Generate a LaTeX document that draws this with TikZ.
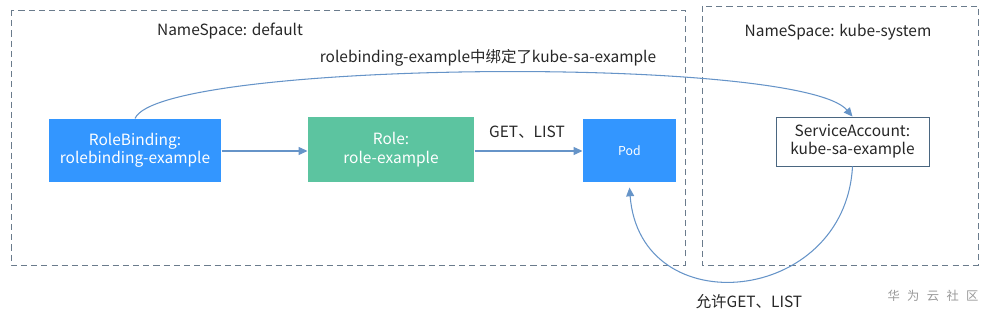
\documentclass[tikz,border=0pt]{standalone}
\usepackage{fontspec}
\setmainfont{Noto Sans CJK SC}
\usetikzlibrary{positioning,arrows.meta}
\definecolor{kblue}{HTML}{3396FF}
\definecolor{kgreen}{HTML}{5CC4A0}
\definecolor{kline}{HTML}{6694C8}
\definecolor{kdash}{HTML}{6A7B8C}
\definecolor{kframe}{HTML}{4A6680}

\begin{document}
\begin{tikzpicture}[
  x=0.02cm,y=-0.02cm,
  >={Triangle[width=4.5pt,length=5pt]},
  line width=0.6pt,
  every node/.style={font=\fontsize{8.8}{10.5}\selectfont,text=black!85},
  nsbox/.style={draw=kdash,dashed,dash pattern=on 3.5pt off 2.3pt,line width=0.5pt},
  objbox/.style={text=white,align=center,inner sep=0pt},
  conn/.style={draw=kline,line width=0.6pt}
]%
  \useasboundingbox (0,0) rectangle (987,317);

  % namespaces
  \draw[nsbox] (11,10) rectangle (685,265);
  \draw[nsbox] (702,6) rectangle (978,265);
  \node (nsdef) at (230,31) {NameSpace: default};
  \node (nssys) at (838,32) {NameSpace: kube-system};

  % objects
  \node (rb)   [objbox,fill=kblue,minimum width=3.44cm,minimum height=1.26cm] at (135,150.5)
    {RoleBinding:\\rolebinding-example};
  \node (role) [objbox,fill=kgreen,minimum width=3.32cm,minimum height=1.3cm] at (391,149.5)
    {Role:\\role-example};
  \node (pod)  [objbox,fill=kblue,minimum width=1.86cm,minimum height=1.26cm,
                font=\fontsize{7}{8}\selectfont] at (629.5,150.5) {Pod};
  \node (sa)   [draw=kframe,fill=white,align=center,inner sep=0pt,line width=0.5pt,
                minimum width=3.06cm,minimum height=0.98cm] at (852.5,141.5)
    {ServiceAccount:\\kube-sa-example};

  % connectors
  \draw[conn,->] (rb.east |- 0,151) -- (role.west |- 0,151);
  \draw[conn,->] (role.east |- 0,151) -- (pod.west |- 0,151);
  \node (get) at (527,132) {GET、LIST};

  \draw[conn,->] (rb.north) .. controls (160,60) and (800,55) .. (sa.north);
  \node (bind) at (488,58) {rolebinding-example中绑定了kube-sa-example};

  \draw[conn,->] (sa.south) .. controls (845,305) and (640,325) .. ([yshift=-0.1cm]pod.south);
  \node (allow) at (749,302) {允许GET、LIST};

  \node (mark) [text=black!40,font=\fontsize{7}{8}\selectfont] at (933,296)
    {华\hspace{0.6em}为\hspace{0.6em}云\hspace{0.6em}社\hspace{0.6em}区};
\end{tikzpicture}
\end{document}
